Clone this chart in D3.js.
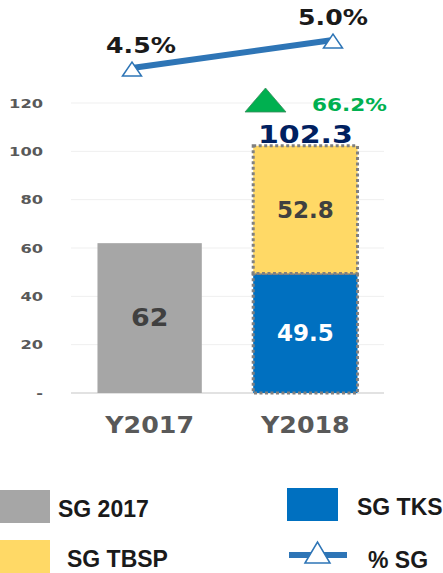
<!DOCTYPE html>
<html>
<head>
	<script src="https://d3js.org/d3.v7.min.js"></script>
	<style>
		body { margin: 0; background: #fff; }
		text { font-family: "DejaVu Sans", Verdana, sans-serif; font-weight: bold; }
		.legend text { font-family: "Liberation Sans", Arial, sans-serif; }
	</style>
</head>
<body>
	<div class="chart"></div>
	<script>
		// data
		var categories = ["Y2017", "Y2018"];
		var sg2017 = [62, 0];
		var sgTks = [0, 49.5];
		var sgTbsp = [0, 52.8];
		var totals = [62, 102.3];
		var pctSg = [4.5, 5.0];
		var yTicks = [0, 20, 40, 60, 80, 100, 120];
		var growth = "66.2%";

		var w = 443, h = 573;
		var svg = d3.select(".chart").append("svg")
			.attr("width", w)
			.attr("height", h);

		// text helper -- stretched a bit wider like the original
		function label(g, x, y, txt, size, sx, fill, anchor) {
			return g.append("text")
				.attr("transform", "translate(" + x + "," + y + ") scale(" + sx + ",1)")
				.attr("text-anchor", anchor || "middle")
				.attr("fill", fill)
				.style("font-size", size + "px")
				.text(txt);
		}

		var x = d3.scaleBand().domain(categories).range([71, 384]).paddingInner(0.33).paddingOuter(0.17);
		var y = d3.scaleLinear().domain([0, 120]).range([393, 103]);

		// gridlines
		svg.append("g").selectAll("line")
			.data(yTicks)
			.enter().append("line")
			.attr("x1", 71).attr("x2", 384)
			.attr("y1", function(d) { return y(d); })
			.attr("y2", function(d) { return y(d); })
			.attr("stroke", function(d) { return d == 0 ? "#d9d9d9" : "#efefef"; })
			.attr("stroke-width", function(d) { return d == 0 ? 1.5 : 1; });

		// y axis labels
		var yAxis = d3.axisLeft(y).tickValues(yTicks).tickSize(0).tickPadding(0)
			.tickFormat(function(d) { return d == 0 ? "-" : d; });
		svg.append("g")
			.attr("transform", "translate(43,0)")
			.call(yAxis)
			.call(function(g) { g.select(".domain").remove(); })
			.selectAll("text")
			.attr("transform", "scale(1.25,1)")
			.attr("fill", "#595959")
			.style("font-size", "13px")
			.style("font-family", "DejaVu Sans, sans-serif")
			.style("font-weight", "bold");

		// bars
		var stacks = [
			{ vals: sg2017, color: "#A6A6A6", dotted: false },
			{ vals: sgTks, color: "#0070C0", dotted: true },
			{ vals: sgTbsp, color: "#FFD966", dotted: true }
		];
		var base = [0, 0];
		stacks.forEach(function(s) {
			var segs = s.vals.map(function(v, k) { return { cat: categories[k], y0: base[k], v: v }; })
				.filter(function(d) { return d.v > 0; });
			svg.append("g").selectAll("rect")
				.data(segs)
				.enter().append("rect")
				.attr("x", function(d) { return x(d.cat); })
				.attr("y", function(d) { return y(d.y0 + d.v); })
				.attr("width", x.bandwidth())
				.attr("height", function(d) { return y(d.y0) - y(d.y0 + d.v); })
				.attr("fill", s.color)
				.attr("stroke", s.dotted ? "#808080" : "none")
				.attr("stroke-width", 3)
				.attr("stroke-dasharray", "3,2.5");
			s.vals.forEach(function(v, k) { base[k] += v; });
		});

		// bar value labels
		var cx = function(c) { return x(c) + x.bandwidth() / 2; };
		label(svg, cx("Y2017"), y(sg2017[0] / 2) + 8, sg2017[0], 24, 1.12, "#404040");
		label(svg, cx("Y2018"), y(sgTks[1] / 2) + 8, sgTks[1], 23, 1.0, "#ffffff");
		label(svg, cx("Y2018"), y(sgTks[1] + sgTbsp[1] / 2) + 8, sgTbsp[1], 23, 1.0, "#404040");
		label(svg, cx("Y2018"), y(totals[1]) - 3, totals[1], 25, 1.2, "#002060");

		// growth marker
		svg.append("path")
			.attr("d", "M-20.5,12L0,-12L20.5,12Z")
			.attr("transform", "translate(265.5,100)")
			.attr("fill", "#00B050")
			.attr("stroke", "#3a8a5a")
			.attr("stroke-width", 0.8);
		label(svg, 312, 111, growth, 18, 1.2, "#00B050", "start");

		// x axis labels
		categories.forEach(function(c) {
			label(svg, cx(c), 433, c, 23, 1.1, "#595959");
		});

		// % SG line (secondary axis)
		var x2 = d3.scalePoint().domain(categories).range([132, 333]);
		var y2 = d3.scaleLinear().domain([4.0, 5.5]).range([96, 12]);
		var line = d3.line()
			.x(function(d, i) { return x2(categories[i]); })
			.y(function(d) { return y2(d); });
		svg.append("path")
			.datum(pctSg)
			.attr("d", line)
			.attr("fill", "none")
			.attr("stroke", "#2E75B6")
			.attr("stroke-width", 6);
		svg.append("g").selectAll("path")
			.data(pctSg)
			.enter().append("path")
			.attr("d", "M-9.5,7L0,-7L9.5,7Z")
			.attr("transform", function(d, i) { return "translate(" + x2(categories[i]) + "," + (y2(d) + 1) + ")"; })
			.attr("fill", "#fff")
			.attr("stroke", "#2E75B6")
			.attr("stroke-width", 1.5);
		pctSg.forEach(function(d, i) {
			label(svg, x2(categories[i]) + (i == 0 ? 9 : 0), y2(d) - 15, d.toFixed(1) + "%", 21, 1.2, "#1a1a1a");
		});

		// legend
		var lg = svg.append("g").attr("class", "legend");
		lg.append("rect").attr("x", 0).attr("y", 490).attr("width", 50).attr("height", 33).attr("fill", "#A6A6A6");
		lg.append("text").attr("x", 58).attr("y", 517).style("font-size", "23px").attr("fill", "#1a1a1a").text("SG 2017");
		lg.append("rect").attr("x", 287).attr("y", 488).attr("width", 51).attr("height", 33).attr("fill", "#0070C0");
		lg.append("text").attr("x", 357).attr("y", 515).style("font-size", "23px").attr("fill", "#1a1a1a").text("SG TKS");
		lg.append("rect").attr("x", 0).attr("y", 540).attr("width", 50).attr("height", 33).attr("fill", "#FFD966");
		lg.append("text").attr("x", 67).attr("y", 567).style("font-size", "23px").attr("fill", "#1a1a1a").text("SG TBSP");
		lg.append("line").attr("x1", 289).attr("x2", 347).attr("y1", 555).attr("y2", 555)
			.attr("stroke", "#2E75B6").attr("stroke-width", 6);
		lg.append("path")
			.attr("d", "M-12.5,10L0,-11L12.5,10Z")
			.attr("transform", "translate(317.5,553)")
			.attr("fill", "#fff").attr("stroke", "#2E75B6").attr("stroke-width", 1.5);
		lg.append("text").attr("x", 368).attr("y", 568).style("font-size", "23px").attr("fill", "#1a1a1a").text("% SG");
	</script>
</body>
</html>
